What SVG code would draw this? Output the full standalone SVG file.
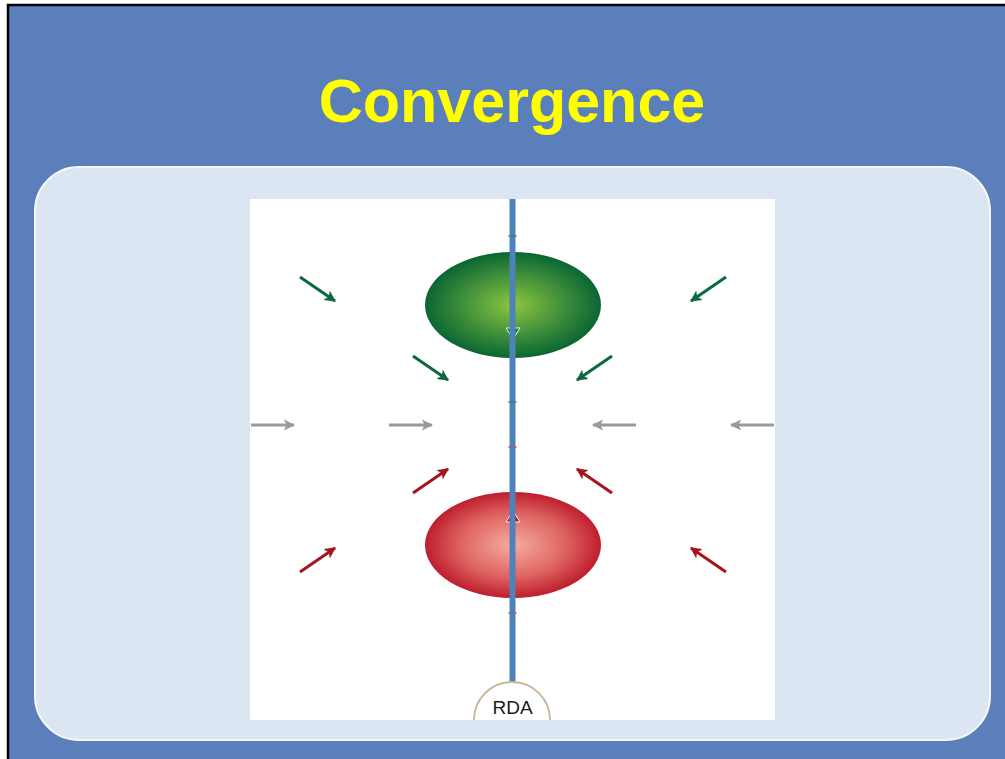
<svg xmlns="http://www.w3.org/2000/svg" width="1005" height="759" viewBox="0 0 1005 759">
  <defs>
    <radialGradient id="gGreen" cx="50%" cy="50%" r="50%">
      <stop offset="0" stop-color="#8DC63F"/>
      <stop offset="0.6" stop-color="#3C8C3A"/>
      <stop offset="1" stop-color="#0A6632"/>
    </radialGradient>
    <radialGradient id="gRed" cx="50%" cy="50%" r="50%">
      <stop offset="0" stop-color="#F6ADA0"/>
      <stop offset="0.6" stop-color="#DE6460"/>
      <stop offset="1" stop-color="#BE1E2D"/>
    </radialGradient>
    <marker id="mGreen" viewBox="0 0 10 10" refX="9" refY="5" markerWidth="3.8" markerHeight="3.8" orient="auto" markerUnits="strokeWidth">
      <path d="M0,0 L10,5 L0,10 L2.5,5 Z" fill="#0A6A3A"/>
    </marker>
    <marker id="mRed" viewBox="0 0 10 10" refX="9" refY="5" markerWidth="3.8" markerHeight="3.8" orient="auto" markerUnits="strokeWidth">
      <path d="M0,0 L10,5 L0,10 L2.5,5 Z" fill="#A8141C"/>
    </marker>
    <marker id="mGray" viewBox="0 0 10 10" refX="9" refY="5" markerWidth="3.8" markerHeight="3.8" orient="auto" markerUnits="strokeWidth">
      <path d="M0,0 L10,5 L0,10 L2.5,5 Z" fill="#9A9A9E"/>
    </marker>
  </defs>
  <style>
    .green { stroke:#0A6A3A; stroke-width:3; fill:none; marker-end:url(#mGreen); }
    .red { stroke:#A8141C; stroke-width:3; fill:none; marker-end:url(#mRed); }
    .gray { stroke:#9A9A9E; stroke-width:3; fill:none; marker-end:url(#mGray); }
  </style>

  <rect x="0" y="0" width="1005" height="759" fill="#FFFFFF"/>
  <rect x="8" y="5" width="1005" height="760" fill="#5B7FBA" stroke="#000000" stroke-width="2.5"/>

  <text x="512" y="122" font-family="Liberation Sans, Arial, sans-serif" font-weight="bold" font-size="61" fill="#FFFF00" text-anchor="middle">Convergence</text>

  <rect x="35" y="167" width="955" height="573" rx="44" ry="44" fill="#DCE6F2" stroke="#F4F7FB" stroke-width="2"/>

  <rect x="250" y="199" width="525" height="521" fill="#FFFFFF"/>

  <g id="green-ellipse">
    <ellipse cx="513" cy="305" rx="88" ry="53" fill="url(#gGreen)"/>
    <path d="M506,328 L520,328 L513,339 Z" fill="#1A6E4A" stroke="#FFFFFF" stroke-width="1"/>
  </g>
  <g id="red-ellipse">
    <ellipse cx="513" cy="545" rx="88" ry="53" fill="url(#gRed)"/>
    <path d="M506,522 L520,522 L513,511 Z" fill="#A8141C" stroke="#FFFFFF" stroke-width="1"/>
  </g>

  <g id="axis">
    <line x1="512.5" y1="199" x2="512.5" y2="684" stroke="#4F81BD" stroke-width="6"/>
    <line x1="508" y1="236" x2="517" y2="236" stroke="#2E7D5B" stroke-width="1"/>
    <line x1="508" y1="402" x2="517" y2="402" stroke="#2E7D5B" stroke-width="1"/>
    <line x1="508" y1="447" x2="517" y2="447" stroke="#C0504D" stroke-width="1"/>
    <line x1="508" y1="613" x2="517" y2="613" stroke="#C0504D" stroke-width="1"/>
  </g>

  <g id="rda">
    <path d="M474,720 A38,38 0 0 1 550,720" fill="#FFFFFF" stroke="#C8B896" stroke-width="2"/>
    <text x="512.5" y="714" font-family="Liberation Sans, Arial, sans-serif" font-size="19" fill="#1A1A1A" text-anchor="middle">RDA</text>
  </g>

  <g id="connectors">
    <line class="green" x1="300" y1="277" x2="335" y2="301"/>
    <line class="green" x1="413" y1="356" x2="448" y2="380"/>
    <line class="green" x1="726" y1="277" x2="691" y2="301"/>
    <line class="green" x1="612" y1="356" x2="577" y2="380"/>
    <line class="gray" x1="251" y1="425" x2="294" y2="425"/>
    <line class="gray" x1="389" y1="425" x2="432" y2="425"/>
    <line class="gray" x1="636" y1="425" x2="593" y2="425"/>
    <line class="gray" x1="774" y1="425" x2="731" y2="425"/>
    <line class="red" x1="300" y1="572" x2="335" y2="548"/>
    <line class="red" x1="413" y1="493" x2="448" y2="469"/>
    <line class="red" x1="726" y1="572" x2="691" y2="548"/>
    <line class="red" x1="612" y1="493" x2="577" y2="469"/>
  </g>
</svg>
